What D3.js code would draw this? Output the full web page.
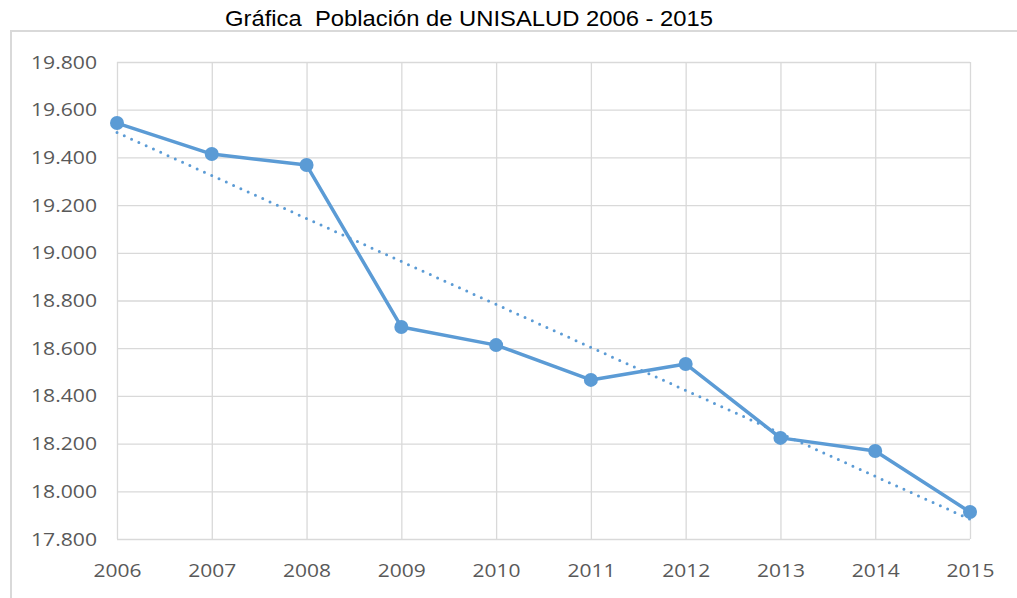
<!DOCTYPE html>
<html><head><meta charset="utf-8">
<script src="https://cdn.jsdelivr.net/npm/d3@7"></script>
<style>html,body{margin:0;padding:0;background:#fff;}svg{display:block;}</style>
</head><body>
<svg id="chart" width="1017" height="598"></svg>
<script>
const title = "Gráfica  Población de UNISALUD 2006 - 2015";
const years = ["2006","2007","2008","2009","2010","2011","2012","2013","2014","2015"];
const population = [19544,19414,19368,18689,18613,18467,18534,18224,18169,17913];
const yTicks = [17800,18000,18200,18400,18600,18800,19000,19200,19400,19600,19800];

const svg = d3.select("#chart");
const m = {left:117, right:970, top:62, bottom:539};

// outer frame
svg.append("path").attr("d","M11,598 L11,31 L1017,31")
  .attr("fill","none").attr("stroke","#d9d9d9").attr("stroke-width",2);

svg.append("text").attr("x",225).attr("y",26).attr("text-anchor","start")
  .style("white-space","pre")
  .attr("font-family","Liberation Sans, Arial, sans-serif").attr("font-size",22)
  .attr("textLength",488).attr("lengthAdjust","spacingAndGlyphs")
  .attr("fill","#000").text(title);

const x = d3.scalePoint().domain(years).range([m.left,m.right]);
const y = d3.scaleLinear().domain([17800,19800]).range([m.bottom,m.top]);

// gridlines
const gy = svg.append("g").attr("transform",`translate(${m.left},0)`)
  .call(d3.axisLeft(y).tickValues(yTicks).tickSize(-(m.right-m.left)).tickFormat(""));
gy.select(".domain").remove();
gy.selectAll("line").attr("stroke","#d9d9d9").attr("stroke-width",1.3);
const gx = svg.append("g").attr("transform",`translate(0,${m.bottom})`)
  .call(d3.axisBottom(x).tickSize(-(m.bottom-m.top)).tickFormat(""));
gx.select(".domain").remove();
gx.selectAll("line").attr("stroke","#d9d9d9").attr("stroke-width",1.3);

// axis labels
const fmtY = d => d3.format(",.3f")(d/1000).replace(/,/g,"");
const ya = svg.append("g").attr("transform",`translate(${m.left},0)`)
  .call(d3.axisLeft(y).tickValues(yTicks).tickSize(0).tickPadding(20).tickFormat(d=>fmtY(d)));
ya.select(".domain").remove();
ya.selectAll("text").attr("font-family","Open Sans, Liberation Sans, sans-serif").attr("font-size",19)
  .attr("fill","#595959").attr("textLength",66).attr("lengthAdjust","spacingAndGlyphs");
const xa = svg.append("g").attr("transform",`translate(0,${m.bottom})`)
  .call(d3.axisBottom(x).tickSize(0).tickPadding(25));
xa.select(".domain").remove();
xa.selectAll("text").attr("font-family","Open Sans, Liberation Sans, sans-serif").attr("font-size",19)
  .attr("fill","#595959").attr("textLength",48).attr("lengthAdjust","spacingAndGlyphs");

// trend line (least squares from data)
const n = population.length;
const xm = d3.mean(d3.range(n)), ymv = d3.mean(population);
const slope = d3.sum(d3.range(n), i => (i-xm)*(population[i]-ymv)) / d3.sum(d3.range(n), i => (i-xm)*(i-xm));
const icpt = ymv - slope*xm;
svg.append("line")
  .attr("x1",x(years[0])).attr("y1",y(icpt))
  .attr("x2",x(years[n-1])).attr("y2",y(icpt+slope*(n-1)))
  .attr("stroke","#5b9bd5").attr("stroke-width",3).attr("stroke-linecap","round")
  .attr("stroke-dasharray","0,8");

const line = d3.line().x((d,i)=>x(years[i])).y(d=>y(d));
svg.append("path").datum(population).attr("d",line)
  .attr("fill","none").attr("stroke","#5b9bd5").attr("stroke-width",3.5).attr("stroke-linejoin","round");
svg.selectAll("circle.pt").data(population).join("circle").attr("class","pt")
  .attr("cx",(d,i)=>x(years[i])).attr("cy",d=>y(d)).attr("r",7).attr("fill","#5b9bd5");
</script>
</body></html>
